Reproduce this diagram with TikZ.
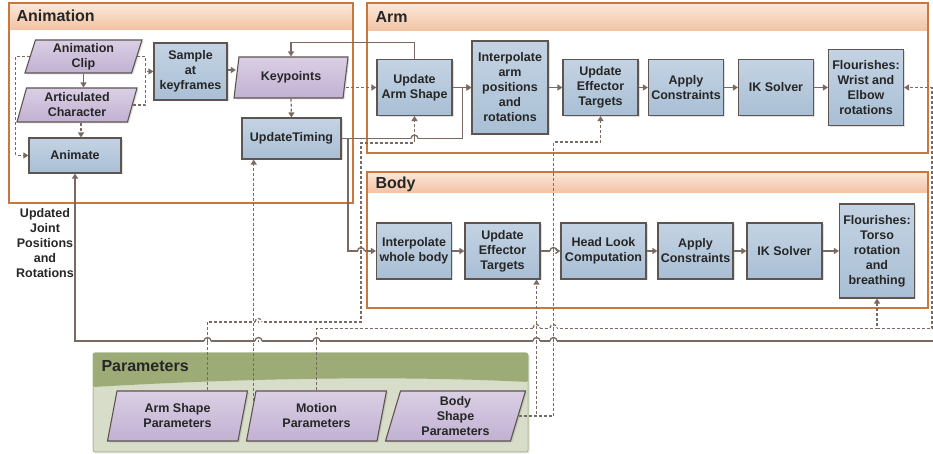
\documentclass[tikz,border=0pt]{standalone}
\usepackage{fontspec}
\setmainfont{Liberation Sans}
\usetikzlibrary{arrows.meta,positioning,shapes.geometric,shadows}

\definecolor{edge}{HTML}{5E5450}
\definecolor{wire}{HTML}{7B6A63}
\definecolor{boxtop}{HTML}{C4D3E3}
\definecolor{boxbot}{HTML}{A9BFD5}
\definecolor{paratop}{HTML}{DACFE4}
\definecolor{parabot}{HTML}{C2B1D3}
\definecolor{grpline}{HTML}{C8773F}
\definecolor{grptop}{HTML}{FCE8DA}
\definecolor{grpbot}{HTML}{F2C2A2}
\definecolor{parline}{HTML}{B0BB98}
\definecolor{parbody}{HTML}{D7DDC8}
\definecolor{parhead}{HTML}{9DAB76}

\pgfdeclarelayer{groups}
\pgfdeclarelayer{wires}
\pgfsetlayers{groups,wires,main}

\begin{document}
\begin{tikzpicture}[x=1pt,y=1pt,>={Triangle[length=5pt,width=6pt]},
    node distance=90pt,on grid,
    every node/.style={font=\fontsize{12.5}{15}\selectfont\bfseries,text=black!85,align=center},
    box/.style={rectangle,draw=edge,line width=1.1pt,top color=boxtop,bottom color=boxbot,
        minimum width=75pt,minimum height=56pt,inner sep=2pt,
        drop shadow={opacity=0.25,shadow xshift=1.5pt,shadow yshift=-1.5pt}},
    para/.style={trapezium,trapezium left angle=70,trapezium right angle=110,
        trapezium stretches body=true,draw=edge,line width=1.1pt,
        top color=paratop,bottom color=parabot,inner sep=1pt,
        drop shadow={opacity=0.25,shadow xshift=1.5pt,shadow yshift=-1.5pt}},
    sline/.style={wire,line width=1.3pt},
    dline/.style={wire,line width=1.2pt,dash pattern=on 3pt off 2pt},
    grp/.style={draw=grpline,line width=1.2pt},
    title/.style={font=\fontsize{16}{18}\selectfont\bfseries,anchor=west}]
    \useasboundingbox (0,0) rectangle (933,454);

    % animation
    \node[para,minimum width=117pt,minimum height=33pt] (clip) at (83.5,397.5) {Animation\\Clip};
    \node[para,minimum width=120pt,minimum height=34pt] (character) at (77,349) {Articulated\\Character};
    \node[box,minimum width=92pt,minimum height=35pt] (animate) at (75,298.5) {Animate};
    \node[box,minimum width=73pt,minimum height=57pt] (sample) at (190.5,382.5) {Sample\\at\\keyframes};
    \node[para,minimum width=114pt,minimum height=41pt] (keypoints) at (291,376.5) {Keypoints};
    \node[box,minimum width=99pt,minimum height=41pt] (timing) at (291.5,315.5) {UpdateTiming};

    % arm
    \node[box]                                  (armshape)  at (414.5,366.5)          {Update\\Arm Shape};
    \node[box,minimum width=76pt,minimum height=93pt] (arminterp) [right=95.5pt of armshape] {Interpolate\\arm\\positions\\and\\rotations};
    \node[box]                                  (armtarget) [right=90.5pt of arminterp] {Update\\Effector\\Targets};
    \node[box]                                  (armapply)  [right=85.5pt of armtarget] {Apply\\Constraints};
    \node[box]                                  (armik)     [right=of armapply]     {IK Solver};
    \node[box,minimum height=76pt]              (armflour)  [right=of armik]        {Flourishes:\\Wrist and\\Elbow\\rotations};

    % body
    \node[box]                                  (bodyinterp) at (414,203)             {Interpolate\\whole body};
    \node[box]                                  (bodytarget) [right=88.5pt of bodyinterp] {Update\\Effector\\Targets};
    \node[box,minimum width=85pt]               (headlook)   [right=101pt of bodytarget] {Head Look\\Computation};
    \node[box]                                  (bodyapply)  [right=92pt of headlook]   {Apply\\Constraints};
    \node[box]                                  (bodyik)     [right=89pt of bodyapply]  {IK Solver};
    \node[box,minimum height=94pt]              (bodyflour)  [right=92.5pt of bodyik]   {Flourishes:\\Torso\\rotation\\and\\breathing};

    % parameters
    \node[para,minimum width=140pt,minimum height=50pt] (armpar)    at (177.5,38)            {Arm Shape\\Parameters};
    \node[para,minimum width=140pt,minimum height=50pt] (motionpar) [right=139pt of armpar]  {Motion\\Parameters};
    \node[para,minimum width=140pt,minimum height=50pt] (bodypar)   [right=139pt of motionpar] {Body\\Shape\\Parameters};

    \node (jointlabel) at (45,211) {Updated\\Joint\\Positions\\and\\Rotations};
    \coordinate (jointin) at (933,113);

    \begin{pgfonlayer}{groups}
        \shade[top color=grptop,bottom color=grpbot] (9,424) rectangle (353,451);
        \draw[grp] (9,251) rectangle (353,451);
        \node[title] (animtitle) at (13,438) {Animation};
        \shade[top color=grptop,bottom color=grpbot] (367,423) rectangle (928,451);
        \draw[grp] (367,301) rectangle (928,451);
        \node[title] (armtitle) at (372,437) {Arm};
        \shade[top color=grptop,bottom color=grpbot] (367,261) rectangle (928,282);
        \draw[grp] (367,146) rectangle (928,282);
        \node[title] (bodytitle) at (372,270) {Body};
        \filldraw[draw=parline,fill=parbody,line width=1pt,rounded corners=2pt,
            drop shadow={opacity=0.2,shadow xshift=1.5pt,shadow yshift=-1.5pt}] (93,2) rectangle (528,101);
        \fill[parhead,rounded corners=2pt] (93,101) -- (528,101) -- (528,72)
            .. controls (390,79) and (230,75) .. (93,67) -- cycle;
        \node[title] (partitle) at (98,88) {Parameters};
    \end{pgfonlayer}

    \begin{pgfonlayer}{wires}
        \draw[sline,->] (clip.south) -- (clip.south |- character.north);
        \draw[dline,->] ([xshift=4pt]character.south) -- ([xshift=4pt]character.south |- animate.north);
        \draw[dline,->] (clip.west) -- ++(-14,0) |- (animate.west);
        \draw[dline,->] (clip.east) -| ([xshift=-8pt]sample.west) -- (sample.west);
        \draw[dline] (character.east) -| ([xshift=-8pt]sample.west);
        \draw[sline,->] ([yshift=1.5pt]sample.east) -- ([yshift=1.5pt]sample.east -| keypoints.west);
        \draw[dline,->] (keypoints.south) -- (timing.north);
        \draw[dline,->] (keypoints.east |- armshape.west) -- (armshape.west);
        \draw[sline,->] (armshape.north) |- ([yshift=14pt]keypoints.north) -- (keypoints.north);
        \draw[sline,->] (timing.east) -| ([xshift=-9pt]arminterp.west) -- (arminterp.west);
        \draw[sline,->] (timing.east) -| ([xshift=-28pt]bodyinterp.west) -- (bodyinterp.west);

        \path[sline,->] (armshape) edge (arminterp)
            (arminterp) edge (armtarget)
            (armtarget) edge (armapply)
            (armapply) edge (armik)
            (armik) edge (armflour);
        \path[sline,->] (bodyinterp) edge (bodytarget)
            (bodytarget) edge (headlook)
            (headlook) edge (bodyapply)
            (bodyapply) edge (bodyik)
            (bodyik) edge (bodyflour);

        % parameter routes
        \draw[dline,->] ([xshift=30pt]armpar.north) |- (361,132) |- ([yshift=-27pt]armshape.south) -- (armshape.south);
        \draw[dline,->] ([xshift=3pt]motionpar.west) -- ([xshift=3pt]motionpar.west |- timing.south);
        \draw[dline,->] (motionpar.north) |- ([yshift=-30pt]bodyflour.south) -- (bodyflour.south);
        \draw[dline,->] ([yshift=-30pt]bodyflour.south) -| ([xshift=28pt]armflour.east) -- (armflour.east);
        \draw[dline,->] (bodypar.east) -| ([xshift=34pt]bodytarget.south);
        \draw[dline,->] (bodypar.east) -| ([xshift=-47pt,yshift=-26pt]armtarget.south) -| (armtarget.south);

        \draw[sline,->] (jointin) -| (animate.south);

        % line hops
        \foreach \hx/\hy/\hs in {207.5/113/sline,258.5/113/sline,316.5/113/sline,536.5/113/sline,
                553.5/113/sline,414.5/315.5/sline,361/203/sline,553.5/203/sline,
                258.5/132/dline,536.5/126/dline,553.5/126/dline}{
            \fill[white] (\hx-3.5,\hy-1.3) rectangle (\hx+3.5,\hy+1.3);
            \draw[\hs] (\hx-3.5,\hy) arc[start angle=180,end angle=0,radius=3.5];
            \draw[wire,line width=1.2pt] (\hx,\hy-1.4) -- (\hx,\hy+1.4);
        }
    \end{pgfonlayer}
\end{tikzpicture}
\end{document}
